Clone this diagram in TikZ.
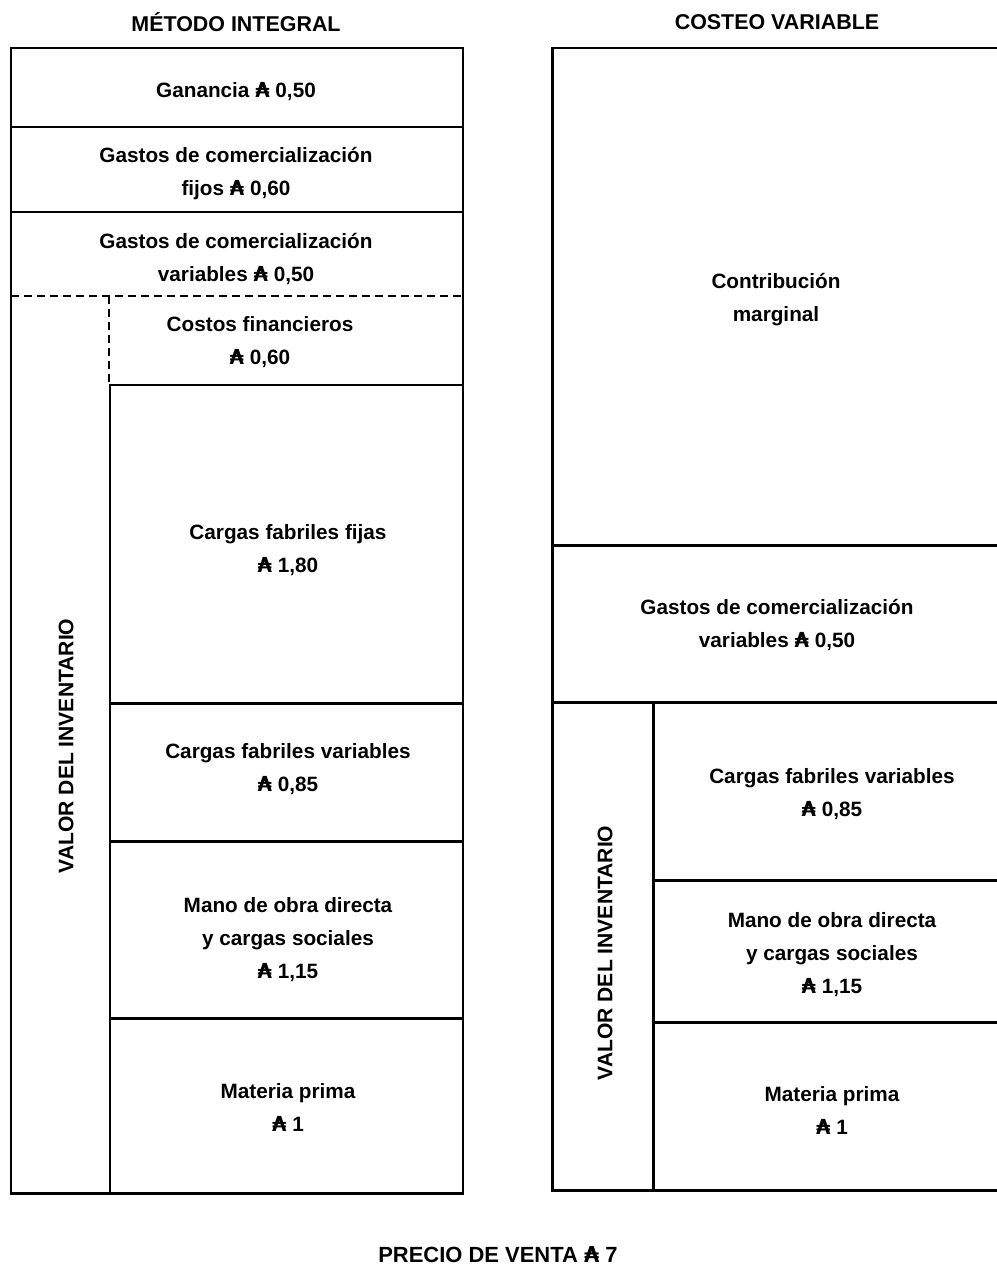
\documentclass[tikz,border=0pt]{standalone}
\usepackage{fontspec}
\setmainfont{Liberation Sans}
\newfontfamily\djv{DejaVu Sans}
\newcommand{\aus}{{\djv\bfseries ₳}}
\begin{document}
\begin{tikzpicture}[x=0.02cm,y=-0.02cm,
  frame/.style={line width=1.7pt},
  txt/.style={font=\bfseries\fontsize{11.8}{18.8}\selectfont, align=center, inner sep=0pt},
  ttl/.style={font=\bfseries\fontsize{12.2}{14}\selectfont, inner sep=0pt},
  vtxt/.style={font=\bfseries\fontsize{12}{14}\selectfont, rotate=90, inner sep=0pt},
  dsh/.style={line width=1.7pt, dash pattern=on 0.16cm off 0.1cm}]
\useasboundingbox (0,0) rectangle (997,1271);
% titles
\node[ttl] (t1) at (236,22) {MÉTODO INTEGRAL};
\node[ttl] (t2) at (777,22) {COSTEO VARIABLE};
% left panel
\draw[frame] (11,48) rectangle (463,1193);
\draw[frame] (11,127) -- (463,127);
\draw[frame] (11,212) -- (463,212);
\draw[dsh] (11,296) -- (463,296);
\draw[dsh] (109,296) -- (109,385);
\draw[frame] (109,385) -- (463,385);
\draw[frame] (110,385) -- (110,1193);
\draw[frame] (110,703) -- (463,703);
\draw[frame] (110,841) -- (463,841);
\draw[frame] (110,1018) -- (463,1018);
\node[txt] (l1) at (236,92) {Ganancia \aus{} 0,50};
\node[txt] (l2) at (236,174) {Gastos de comercialización\\fijos \aus{} 0,60};
\node[txt] (l3) at (236,259) {Gastos de comercialización\\variables \aus{} 0,50};
\node[txt] (l4) at (260,342) {Costos financieros\\\aus{} 0,60};
\node[txt] (l5) at (288,550) {Cargas fabriles fijas\\\aus{} 1,80};
\node[txt] (l6) at (288,769) {Cargas fabriles variables\\\aus{} 0,85};
\node[txt] (l7) at (288,940) {Mano de obra directa\\y cargas sociales\\\aus{} 1,15};
\node[txt] (l8) at (288,1107) {Materia prima\\\aus{} 1};
\node[vtxt] (lv) at (66,746) {VALOR DEL INVENTARIO};
% right panel
\draw[frame] (1010,48) -- (552,48) -- (552,1190) -- (1010,1190);
\draw[frame] (552,545) -- (1010,545);
\draw[frame] (552,702) -- (1010,702);
\draw[frame] (653,702) -- (653,1190);
\draw[frame] (653,880) -- (1010,880);
\draw[frame] (653,1022) -- (1010,1022);
\node[txt] (r1) at (776,300) {Contribución\\marginal};
\node[txt] (r2) at (777,625) {Gastos de comercialización\\variables \aus{} 0,50};
\node[txt] (r3) at (832,794) {Cargas fabriles variables\\\aus{} 0,85};
\node[txt] (r4) at (832,955) {Mano de obra directa\\y cargas sociales\\\aus{} 1,15};
\node[txt] (r5) at (832,1110) {Materia prima\\\aus{} 1};
\node[vtxt] (rv) at (605,953) {VALOR DEL INVENTARIO};
% bottom
\node[ttl, font=\bfseries\fontsize{12.5}{14}\selectfont] (pv) at (498,1255) {PRECIO DE VENTA \aus{} 7};
\end{tikzpicture}
\end{document}
